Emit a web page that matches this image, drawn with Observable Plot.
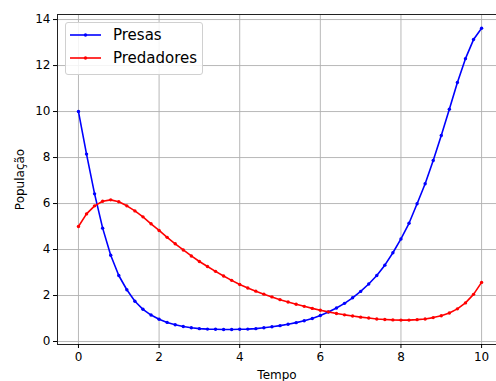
<!DOCTYPE html>
<html><head><meta charset="utf-8">
<script src="https://cdn.jsdelivr.net/npm/d3@7"></script>
<script src="https://cdn.jsdelivr.net/npm/@observablehq/plot@0.6"></script>
<style>
body{margin:0;background:#fff;font-family:"DejaVu Sans",sans-serif;}
#wrap{position:relative;width:496px;height:381px;}
#legend{position:absolute;left:65px;top:22px;width:138px;height:53px;background:rgba(255,255,255,0.85);border:1px solid #d0d0d0;border-radius:3px;box-sizing:border-box;font-size:15px;color:#000;}
.row{position:absolute;left:4px;height:18px;display:flex;align-items:center;}
.row span{margin-left:12px;}
</style></head>
<body><div id="wrap"><div id="legend"></div></div>
<script>
const tempo = d3.range(51).map(i => +(i * 0.2).toFixed(1));
const presas = [10.0, 8.15, 6.42, 4.93, 3.75, 2.87, 2.25, 1.75, 1.4, 1.15,
  0.97, 0.83, 0.73, 0.65, 0.6, 0.56, 0.54, 0.53, 0.52, 0.52,
  0.53, 0.54, 0.56, 0.6, 0.64, 0.69, 0.75, 0.82, 0.9, 1.0,
  1.13, 1.28, 1.46, 1.66, 1.9, 2.18, 2.5, 2.87, 3.32, 3.86,
  4.46, 5.14, 5.99, 6.86, 7.87, 8.96, 10.1, 11.26, 12.3, 13.13, 13.62];
const predadores = [5.0, 5.55, 5.9, 6.1, 6.16, 6.08, 5.9, 5.68, 5.42, 5.12,
  4.83, 4.53, 4.25, 3.98, 3.72, 3.48, 3.26, 3.05, 2.85, 2.66,
  2.48, 2.33, 2.19, 2.06, 1.94, 1.82, 1.72, 1.62, 1.53, 1.44,
  1.36, 1.29, 1.22, 1.16, 1.11, 1.06, 1.02, 0.98, 0.96, 0.94,
  0.93, 0.93, 0.95, 0.98, 1.04, 1.12, 1.24, 1.42, 1.68, 2.05, 2.57];
const series = ["Presas", "Predadores"];
const colors = ["#0000ff", "#ff0000"];
const xTicks = [0, 2, 4, 6, 8, 10];
const yTicks = [0, 2, 4, 6, 8, 10, 12, 14];

const data = [];
tempo.forEach((t, i) => {
  data.push({t, v: presas[i], s: series[0]});
  data.push({t, v: predadores[i], s: series[1]});
});

const chart = Plot.plot({
  width: 496, height: 381,
  marginLeft: 57, marginRight: 0, marginTop: 14, marginBottom: 37,
  style: {fontFamily: "DejaVu Sans", fontSize: "12px", color: "#000", background: "#fff"},
  x: {domain: [-0.52, 10.37]},
  y: {domain: [-0.13, 14.22]},
  color: {domain: series, range: colors},
  marks: [
    Plot.gridX(xTicks, {stroke: "#b0b0b0", strokeOpacity: 1, strokeWidth: 0.9}),
    Plot.gridY(yTicks, {stroke: "#b0b0b0", strokeOpacity: 1, strokeWidth: 0.9}),
    Plot.line(data, {x: "t", y: "v", stroke: "s", z: "s", strokeWidth: 1.6}),
    Plot.dot(data, {x: "t", y: "v", fill: "s", r: 1.7}),
    Plot.frame({anchor: "top", stroke: "#222", strokeWidth: 1}),
    Plot.frame({anchor: "left", stroke: "#222", strokeWidth: 1}),
    Plot.frame({anchor: "bottom", stroke: "#222", strokeWidth: 1}),
    Plot.axisX(xTicks, {tickSize: 4, tickPadding: 4, label: "Tempo", labelAnchor: "center", labelArrow: false, labelOffset: 34, fontSize: 12}),
    Plot.axisY(yTicks, {tickSize: 4, tickPadding: 3, label: "População", labelAnchor: "center", labelArrow: false, labelOffset: 42, fontSize: 12})
  ]
});
document.getElementById("wrap").prepend(chart);

const legend = document.getElementById("legend");
series.forEach((s, i) => {
  const row = document.createElement("div");
  row.className = "row";
  row.style.top = (3 + i * 23) + "px";
  row.innerHTML = `<svg width="31" height="6"><line x1="0" x2="31" y1="3" y2="3" stroke="${colors[i]}" stroke-width="1.6"/><circle cx="15.5" cy="3" r="1.7" fill="${colors[i]}"/></svg><span>${s}</span>`;
  legend.appendChild(row);
});
</script></body></html>
